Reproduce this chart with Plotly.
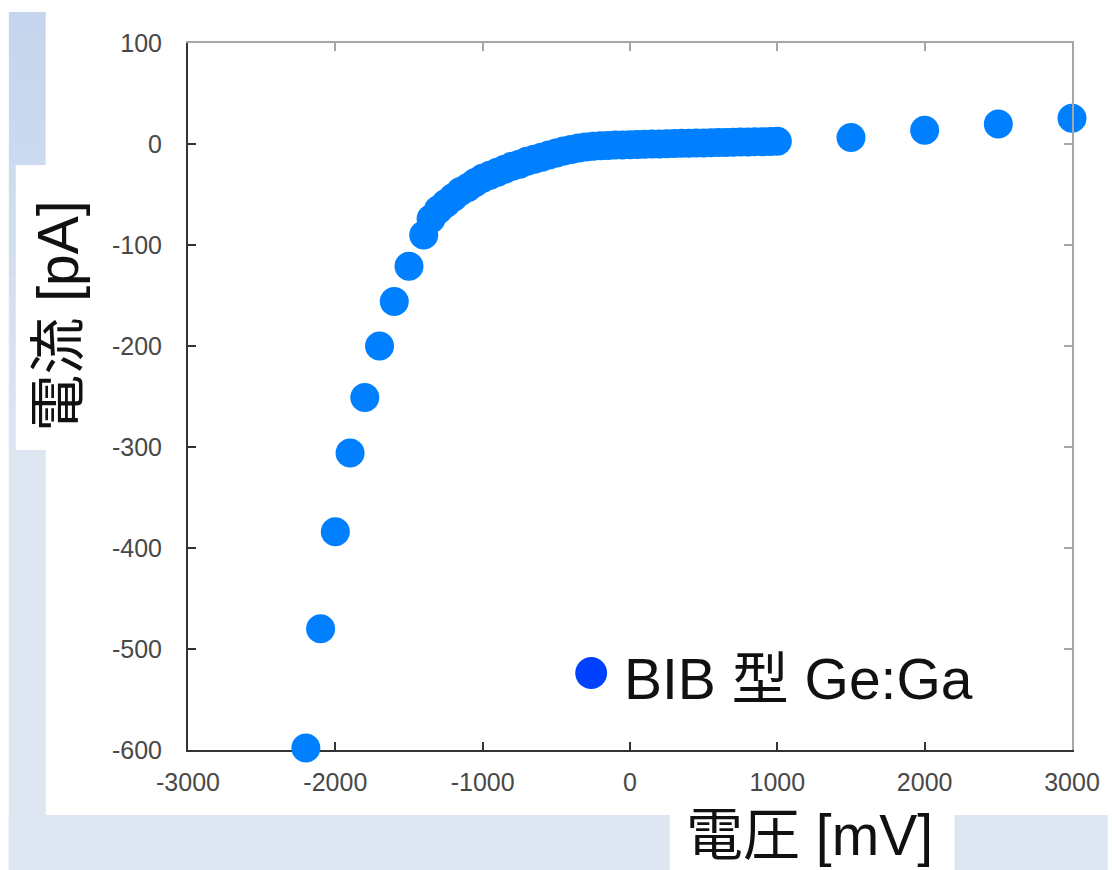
import plotly.graph_objects as go

# ---------------- data ----------------
voltage_low = [-2200, -2100, -2000, -1900, -1800, -1700, -1600, -1500, -1400]
current_low = [-598, -480, -384, -306, -251, -200, -156, -121, -90]

voltage_dense = [-1350, -1300, -1250, -1200, -1150, -1100, -1050, -1000, -950, -900,
                 -850, -800, -750, -700, -650, -600, -550, -500, -450, -400,
                 -350, -300, -250, -200, -150, -100, -50, 0, 50, 100,
                 150, 200, 250, 300, 350, 400, 450, 500, 550, 600,
                 650, 700, 750, 800, 850, 900, 950, 1000]
current_dense = [-74, -65, -59, -53, -47, -43, -38, -34, -31, -28,
                 -25, -22, -20, -17, -15, -13, -11, -9, -7, -5.5,
                 -4, -3, -2.3, -1.8, -1.4, -1.1, -0.9, -0.7, -0.5, -0.3,
                 -0.1, 0.1, 0.3, 0.5, 0.7, 0.8, 1.0, 1.1, 1.3, 1.4,
                 1.6, 1.7, 1.9, 2.0, 2.2, 2.3, 2.5, 2.6]

voltage_high = [1500, 2000, 2500, 3000]
current_high = [6.5, 13.5, 19.8, 25.5]

x_ticks = [-3000, -2000, -1000, 0, 1000, 2000, 3000]
x_tick_labels = ["-3000", "-2000", "-1000", "0", "1000", "2000", "3000"]
y_ticks = [100, 0, -100, -200, -300, -400, -500, -600]
y_tick_labels = ["100", "0", "-100", "-200", "-300", "-400", "-500", "-600"]

series_name = "BIB 型 Ge:Ga"
x_title = "電圧 [mV]"
y_title = "電流 [pA]"

# ---------------- layout geometry ----------------
W, H = 1112, 870
L, R, T, B = 188, 1076, 43, 750   # plot area in px


def px(xp):
    return (xp - L) / (R - L)


def py(yp):
    return (B - yp) / (B - T)


voltage = voltage_low + voltage_dense + voltage_high
current = current_low + current_dense + current_high

fig = go.Figure()
fig.add_trace(go.Scatter(
    x=voltage, y=current, mode="markers",
    marker=dict(size=29, color="#0080ff", line=dict(width=0)),
    cliponaxis=False, showlegend=False, hoverinfo="x+y",
))
# dummy trace for mirrored (top/right) grey axes
fig.add_trace(go.Scatter(x=[None], y=[None], xaxis="x2", yaxis="y2",
                         showlegend=False, hoverinfo="skip"))

tick_font = dict(family="Liberation Sans, Arial, sans-serif", size=25, color="#484848")
title_font = dict(family="Liberation Sans, Noto Sans CJK JP, sans-serif", size=57, color="#111111")
dark = "#333333"
grey = "#a6a6a6"

shapes = []
# background decoration: light-blue frame on left and bottom
c0 = (196, 213, 237)
c1 = (221, 229, 242)
n = 20
y_start, y_end = 12, 450
for i in range(n):
    ya = y_start + (y_end - y_start) * i / n
    yb = y_start + (y_end - y_start) * (i + 1) / n + 0.5
    t = i / (n - 1)
    col = "rgb(%d,%d,%d)" % tuple(round(c0[k] + (c1[k] - c0[k]) * t) for k in range(3))
    shapes.append(dict(type="rect", xref="paper", yref="paper", layer="below",
                       x0=px(8), x1=px(45), y0=py(ya), y1=py(yb),
                       line=dict(width=0), fillcolor=col))
bg = "rgb(222,230,242)"
shapes.append(dict(type="rect", xref="paper", yref="paper", layer="below",
                   x0=px(8), x1=px(45), y0=py(450), y1=py(870),
                   line=dict(width=0), fillcolor=bg))
shapes.append(dict(type="rect", xref="paper", yref="paper", layer="below",
                   x0=px(8), x1=px(1112), y0=py(815), y1=py(870),
                   line=dict(width=0), fillcolor=bg))
# white boxes behind axis titles
shapes.append(dict(type="rect", xref="paper", yref="paper", layer="below",
                   x0=px(15), x1=px(46), y0=py(165), y1=py(450),
                   line=dict(width=0), fillcolor="white"))
shapes.append(dict(type="rect", xref="paper", yref="paper", layer="below",
                   x0=px(672), x1=px(958), y0=py(815), y1=py(871),
                   line=dict(width=0), fillcolor="white"))
# legend marker
shapes.append(dict(type="circle", xref="paper", yref="paper", layer="above",
                   x0=px(577), x1=px(609), y0=py(657), y1=py(689),
                   line=dict(width=0), fillcolor="#0040ff"))

annotations = [
    dict(text=series_name, xref="paper", yref="paper", x=px(624), y=py(679),
         xanchor="left", yanchor="middle", showarrow=False, font=title_font),
    dict(text=x_title, xref="paper", yref="paper", x=px(812), y=py(869),
         xanchor="center", yanchor="bottom", showarrow=False, font=title_font),
    dict(text=y_title, xref="paper", yref="paper", x=px(57), y=py(316),
         xanchor="center", yanchor="middle", showarrow=False, textangle=-90,
         font=title_font),
]

common_x = dict(range=[-3000, 3000], tickvals=x_ticks, showgrid=False, zeroline=False,
                ticks="inside", ticklen=8, tickwidth=2, showline=True, linewidth=2,
                fixedrange=True)
common_y = dict(range=[-600, 100], tickvals=y_ticks, showgrid=False, zeroline=False,
                ticks="inside", ticklen=8, tickwidth=2, showline=True, linewidth=2,
                fixedrange=True)

fig.update_layout(
    width=W, height=H,
    margin=dict(l=L, r=W - R, t=T, b=H - B, pad=0),
    paper_bgcolor="white", plot_bgcolor="white",
    showlegend=False,
    xaxis=dict(**common_x, ticktext=x_tick_labels, tickfont=tick_font,
               linecolor=dark, tickcolor=dark, ticklabelstandoff=9, layer="below traces"),
    yaxis=dict(**common_y, ticktext=y_tick_labels, tickfont=tick_font,
               linecolor=dark, tickcolor=dark, ticklabelstandoff=19, layer="below traces"),
    xaxis2=dict(**common_x, overlaying="x", side="top", anchor="y2",
                showticklabels=False, linecolor=grey, tickcolor=grey),
    yaxis2=dict(**common_y, overlaying="y", side="right", anchor="x2",
                showticklabels=False, linecolor=grey, tickcolor=grey),
    shapes=shapes,
    annotations=annotations,
)

fig.write_html("out.html")
